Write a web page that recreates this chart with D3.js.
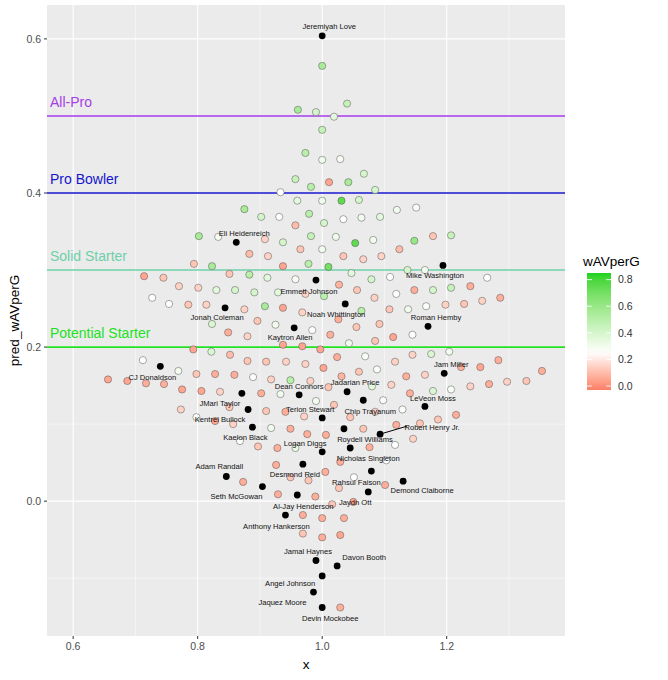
<!DOCTYPE html>
<html>
<head>
<meta charset="utf-8">
<script src="https://cdn.jsdelivr.net/npm/d3@7"></script>
<style>
body { margin: 0; background: #fff; }
text { font-family: Arial, "Liberation Sans", sans-serif; }
</style>
</head>
<body>
<script>
const width = 668, height = 680;
const margin = {top: 5, right: 103, bottom: 44, left: 47};

// [x, pred_wAVperG, wAVperG]
const points = [
  [1.000,0.565,.55],[0.961,0.508,.55],[0.990,0.505,.4],[1.040,0.516,.45],[1.019,0.499,.35],
  [1.000,0.482,.45],[0.973,0.452,.5],[1.000,0.443,.3],[1.029,0.444,.28],[0.957,0.418,.45],
  [1.011,0.414,.05],[1.042,0.414,.55],[1.067,0.425,.4],[0.982,0.408,.5],[1.085,0.404,.4],
  [0.933,0.401,.25],[0.960,0.390,.35],[1.000,0.390,.3],[1.031,0.390,.75],[1.059,0.391,.4],
  [0.875,0.379,.55],[0.902,0.369,.4],[0.931,0.369,.25],[0.979,0.373,.5],[1.034,0.366,.25],
  [1.063,0.368,.3],[1.093,0.369,.35],[1.120,0.378,.3],[1.151,0.381,.28],[0.957,0.358,.1],
  [1.003,0.361,.4],
  [0.802,0.344,.55],[0.833,0.343,.28],[0.908,0.340,.15],[0.937,0.336,.4],[0.982,0.344,.45],
  [1.022,0.343,.3],[1.053,0.335,.75],[1.082,0.339,.3],[1.148,0.338,.6],[1.178,0.344,.12],
  [1.207,0.345,.45],[0.883,0.321,.1],[0.913,0.318,.15],[0.965,0.327,.12],[1.000,0.327,.3],
  [1.034,0.318,.12],[1.066,0.314,.15],[1.095,0.318,.15],[1.124,0.327,.1],[0.794,0.308,.12],
  [0.823,0.305,.55],[0.937,0.305,.05],[0.978,0.308,.5],[1.010,0.304,.7],[1.137,0.300,.4],
  [1.165,0.300,.3],[0.714,0.292,.05],[0.745,0.290,.12],[0.851,0.295,.12],[0.883,0.294,.5],
  [0.912,0.290,.35],[0.957,0.288,.28],[1.047,0.296,.35],[1.079,0.288,.4],[1.109,0.291,.25],
  [1.265,0.290,.25],[0.770,0.279,.15],[0.801,0.277,.15],[0.830,0.274,.35],[0.860,0.274,.4],
  [0.891,0.271,.4],[0.929,0.271,.35],[0.973,0.269,.15],[1.027,0.281,.08],[1.056,0.274,.12],
  [1.148,0.274,.07],[1.178,0.274,.4],[1.207,0.277,.45],[1.238,0.279,.07],[0.727,0.264,.25],
  [0.754,0.256,.25],[0.785,0.255,.12],[0.814,0.255,.15],[0.875,0.249,.15],[0.908,0.253,.55],
  [0.937,0.251,.05],[0.968,0.245,.15],[1.003,0.266,.5],[1.026,0.236,.07],[1.063,0.247,.5],
  [1.084,0.264,.15],[1.119,0.269,.25],[1.108,0.249,.12],[1.138,0.249,.3],[1.167,0.253,.27],
  [1.198,0.255,.15],[1.228,0.256,.12],[1.257,0.260,.15],[1.286,0.264,.07],[0.823,0.230,.38],
  [0.896,0.234,.12],[0.925,0.229,.3],[0.984,0.222,.25],[1.055,0.226,.12],[1.092,0.230,.12],
  [0.849,0.219,.07],[0.880,0.214,.15],[1.013,0.216,.07],[1.085,0.208,.12],[1.114,0.213,.05],
  [1.145,0.216,.27],[0.937,0.203,.05],[0.968,0.201,.05],[1.043,0.205,.3],[0.793,0.197,.05],
  [0.822,0.194,.38],[0.852,0.190,.1],[0.880,0.182,.12],[0.910,0.181,.12],[0.942,0.181,.15],
  [0.973,0.178,.15],[0.997,0.197,.05],[1.002,0.173,.05],[1.024,0.187,.07],[1.069,0.188,.27],
  [1.117,0.181,.15],[1.145,0.190,.15],[1.175,0.191,.38],[1.204,0.194,.3],[0.712,0.183,.25],
  [1.283,0.183,.07],[0.769,0.169,.3],[0.656,0.158,.05],[0.687,0.156,.05],[0.717,0.153,.07],
  [0.746,0.152,.07],[0.798,0.165,.12],[0.828,0.165,.07],[0.859,0.164,.07],[0.889,0.161,.27],
  [0.918,0.158,.15],[0.949,0.157,.5],[0.981,0.156,.15],[1.031,0.162,.08],[1.059,0.168,.12],
  [1.088,0.171,.27],[1.135,0.162,.07],[1.165,0.164,.15],[1.223,0.174,.07],[1.254,0.174,.05],
  [1.353,0.169,.07],[1.328,0.156,.12],[1.297,0.155,.15],[1.268,0.152,.07],[1.238,0.149,.15],
  [1.207,0.145,.27],[1.178,0.143,.38],[1.141,0.140,.07],[1.111,0.151,.15],[1.080,0.149,.35],
  [1.010,0.148,.12],[0.775,0.145,.05],[0.806,0.143,.05],[0.836,0.142,.15],[0.902,0.140,.07],
  [0.933,0.139,.3],[0.990,0.130,.3],[1.019,0.125,.12],[1.098,0.131,.27],[1.129,0.119,.27],
  [0.773,0.119,.15],[0.851,0.122,.12],[0.910,0.117,.12],[0.941,0.116,.07],[0.971,0.110,.15],
  [1.045,0.109,.12],[1.085,0.116,.15],[1.186,0.106,.12],[1.215,0.112,.07],
  [0.798,0.109,.27],[0.828,0.104,.05],[0.857,0.100,.15],[0.918,0.095,.3],[0.949,0.094,.07],
  [0.976,0.087,.07],[1.006,0.086,.07],[1.066,0.094,.12],[1.119,0.099,.07],[1.157,0.101,.12],
  [0.868,0.078,.27],[0.897,0.071,.12],[0.928,0.069,.07],[0.957,0.069,.33],[1.076,0.070,.07],
  [1.117,0.073,.25],[1.146,0.081,.15],[1.029,0.051,.07],[1.103,0.053,.25],[0.926,0.047,.07],
  [1.005,0.038,.07],[0.949,0.031,.12],[0.978,0.027,.12],[1.051,0.031,.25],[0.873,0.025,.07],
  [1.101,0.021,.07],[1.027,0.017,.12],[0.929,0.009,.07],[0.989,0.006,.07],[1.016,-0.004,.12],
  [1.050,-0.001,.05],[0.969,-0.018,.07],[1.000,-0.022,.07],[1.035,-0.022,.07],[0.969,-0.042,.12],
  [1.000,-0.047,.07],[1.029,-0.044,.05],[1.029,-0.138,.07]
];

const names = ["Jeremiyah Love","Eli Heidenreich","Mike Washington","Emmett Johnson","Noah Whittington",
  "Jonah Coleman","Roman Hemby","Kaytron Allen","CJ Donaldson","Jam Miller","Dean Connors",
  "Jadarian Price","JMari Taylor","Chip Trayanum","LeVeon Moss","Kentrel Bullock","Terion Stewart",
  "Kaelon Black","Roydell Williams","Robert Henry Jr.","Nicholas Singleton","Logan Diggs",
  "Desmond Reid","Rahsul Faison","Adam Randall","Demond Claiborne","Seth McGowan","Jaydn Ott",
  "Al-Jay Henderson","Anthony Hankerson","Jamal Haynes","Davon Booth","Angel Johnson",
  "Jaquez Moore","Devin Mockobee"];
const namedX = [1.000,0.862,1.194,0.990,1.037,0.844,1.170,0.955,0.740,1.196,0.963,1.040,0.871,1.066,
  1.165,0.881,1.000,0.888,1.035,1.093,1.045,1.000,0.969,1.079,0.846,1.130,0.904,1.074,0.960,0.941,
  0.990,1.024,1.000,0.986,1.000];
const namedY = [0.604,0.336,0.306,0.287,0.256,0.251,0.227,0.225,0.175,0.166,0.138,0.142,0.140,0.131,
  0.123,0.119,0.108,0.096,0.094,0.087,0.069,0.064,0.048,0.039,0.032,0.026,0.019,0.012,0.008,-0.018,
  -0.077,-0.084,-0.097,-0.118,-0.138];
// repelled label offsets in pixels
const labelOffset = [[7,-9],[8,-9],[-8,10],[-7,11],[-9,10],[-8,10],[8,-9],[-4,10],[-8,11],[7,-9],
  [0,-9],[8,-9],[-22,10],[7,11],[8,-8],[-28,10],[-12,-9],[-7,10],[21,11],[52,-7],[18,10],[-17,-9],
  [-8,10],[-15,11],[-7,-10],[19,9],[-26,10],[-13,10],[6,11],[-9,11],[-8,-9],[27,-9],[-32,7],
  [-31,10],[8,11]];

const tiers = ["All-Pro","Pro Bowler","Solid Starter","Potential Starter"];
const tierY = [0.5,0.4,0.3,0.2];
const tierColor = ["#A63BE8","#1515CC","#6FCFAA","#22E022"];

const xTicks = [0.6,0.8,1.0,1.2];
const yTicks = [0.0,0.2,0.4,0.6];
const legendTicks = [0.0,0.2,0.4,0.6,0.8];

const x = d3.scaleLinear().domain([0.558,1.390]).range([margin.left, width - margin.right]);
const y = d3.scaleLinear().domain([-0.175,0.644]).range([height - margin.bottom, margin.top]);
const color = d3.scaleLinear().domain([-0.03,0.25,0.85])
  .range(["#FA7F66","#ffffff","#1ED31E"]).interpolate(d3.interpolateLab).clamp(true);

const svg = d3.select("body").append("svg").attr("width", width).attr("height", height);

svg.append("rect").attr("x", x.range()[0]).attr("y", y.range()[1])
  .attr("width", x.range()[1]-x.range()[0]).attr("height", y.range()[0]-y.range()[1])
  .attr("fill", "#EBEBEB");

const grid = svg.append("g").attr("fill","none");
const minorX = d3.range(0.7, 1.4, 0.2), minorY = d3.range(-0.1, 0.65, 0.2);
grid.selectAll(".mx").data(minorX).join("line")
  .attr("x1", d => x(d)).attr("x2", d => x(d)).attr("y1", y.range()[0]).attr("y2", y.range()[1])
  .attr("stroke", "#fff").attr("stroke-width", 0.5);
grid.selectAll(".my").data(minorY).join("line")
  .attr("y1", d => y(d)).attr("y2", d => y(d)).attr("x1", x.range()[0]).attr("x2", x.range()[1])
  .attr("stroke", "#fff").attr("stroke-width", 0.5);
grid.selectAll(".gx").data(xTicks).join("line")
  .attr("x1", d => x(d)).attr("x2", d => x(d)).attr("y1", y.range()[0]).attr("y2", y.range()[1])
  .attr("stroke", "#fff").attr("stroke-width", 1.1);
grid.selectAll(".gy").data(yTicks).join("line")
  .attr("y1", d => y(d)).attr("y2", d => y(d)).attr("x1", x.range()[0]).attr("x2", x.range()[1])
  .attr("stroke", "#fff").attr("stroke-width", 1.1);

// tier lines
const tg = svg.append("g");
tg.selectAll("line").data(tierY).join("line")
  .attr("x1", x.range()[0]).attr("x2", x.range()[1])
  .attr("y1", d => y(d)).attr("y2", d => y(d))
  .attr("stroke", (d,i) => tierColor[i]).attr("stroke-width", 1.6);
tg.selectAll("text").data(tierY).join("text")
  .attr("x", 50).attr("y", d => y(d) - 9)
  .attr("fill", (d,i) => tierColor[i]).attr("font-size", 14)
  .text((d,i) => tiers[i]);

// points
svg.append("g").selectAll("circle").data(points).join("circle")
  .attr("cx", d => x(d[0])).attr("cy", d => y(d[1])).attr("r", 3.6)
  .attr("fill", d => color(d[2])).attr("stroke", "#555").attr("stroke-width", 0.5);

// Robert Henry Jr. connector
const rh = names.indexOf("Robert Henry Jr.");
svg.append("line")
  .attr("x1", x(namedX[rh])).attr("y1", y(namedY[rh]))
  .attr("x2", x(namedX[rh]) + 27).attr("y2", y(namedY[rh]) - 8)
  .attr("stroke", "#000").attr("stroke-width", 1);

svg.append("g").selectAll("circle").data(names).join("circle")
  .attr("cx", (d,i) => x(namedX[i])).attr("cy", (d,i) => y(namedY[i])).attr("r", 3.4)
  .attr("fill", "#000");

svg.append("g").selectAll("text").data(names).join("text")
  .attr("x", (d,i) => x(namedX[i]) + labelOffset[i][0])
  .attr("y", (d,i) => y(namedY[i]) + labelOffset[i][1])
  .attr("dy", "0.35em").attr("text-anchor", "middle")
  .attr("font-size", 7.6).attr("fill", "#111")
  .text(d => d);

// axes
const axX = svg.append("g").attr("transform", `translate(0,${y.range()[0]})`);
axX.selectAll("line").data(xTicks).join("line")
  .attr("x1", d => x(d)).attr("x2", d => x(d)).attr("y1", 0).attr("y2", 3).attr("stroke", "#333");
axX.selectAll("text").data(xTicks).join("text")
  .attr("x", d => x(d)).attr("y", 14).attr("text-anchor", "middle")
  .attr("font-size", 10.5).attr("fill", "#4D4D4D").text(d => d3.format(".1f")(d));
const axY = svg.append("g").attr("transform", `translate(${x.range()[0]},0)`);
axY.selectAll("line").data(yTicks).join("line")
  .attr("y1", d => y(d)).attr("y2", d => y(d)).attr("x1", 0).attr("x2", -3).attr("stroke", "#333");
axY.selectAll("text").data(yTicks).join("text")
  .attr("x", -6).attr("y", d => y(d)).attr("dy", "0.35em").attr("text-anchor", "end")
  .attr("font-size", 10.5).attr("fill", "#4D4D4D").text(d => d3.format(".1f")(d));

svg.append("text").attr("x", (x.range()[0]+x.range()[1])/2).attr("y", 669)
  .attr("text-anchor", "middle").attr("font-size", 13.5).text("x");
svg.append("text").attr("transform", `translate(19,${(y.range()[0]+y.range()[1])/2}) rotate(-90)`)
  .attr("text-anchor", "middle").attr("font-size", 13.5).text("pred_wAVperG");

// legend
const lg = svg.append("g");
const ly = d3.scaleLinear().domain([-0.03,0.85]).range([390,273]);
const defs = svg.append("defs");
const grad = defs.append("linearGradient").attr("id","lgrad")
  .attr("x1",0).attr("x2",0).attr("y1",1).attr("y2",0);
grad.selectAll("stop").data(d3.range(0,1.01,0.05)).join("stop")
  .attr("offset", d => d).attr("stop-color", d => color(-0.03 + d*0.88));
lg.append("text").attr("x", 583).attr("y", 266).attr("font-size", 13.5).text("wAVperG");
lg.append("rect").attr("x", 587).attr("y", 273).attr("width", 24).attr("height", 117)
  .attr("fill", "url(#lgrad)");
lg.selectAll("line").data(legendTicks).join("line")
  .attr("x1", 587).attr("x2", 592).attr("y1", d => ly(d)).attr("y2", d => ly(d))
  .attr("stroke", "#fff").attr("stroke-width", 0.8);
lg.selectAll(".r").data(legendTicks).join("line")
  .attr("x1", 606).attr("x2", 611).attr("y1", d => ly(d)).attr("y2", d => ly(d))
  .attr("stroke", "#fff").attr("stroke-width", 0.8);
lg.selectAll("text.t").data(legendTicks).join("text").attr("class","t")
  .attr("x", 618).attr("y", d => ly(d)).attr("dy", "0.35em")
  .attr("font-size", 10.5).attr("fill", "#333").text(d => d3.format(".1f")(d));
</script>
</body>
</html>
